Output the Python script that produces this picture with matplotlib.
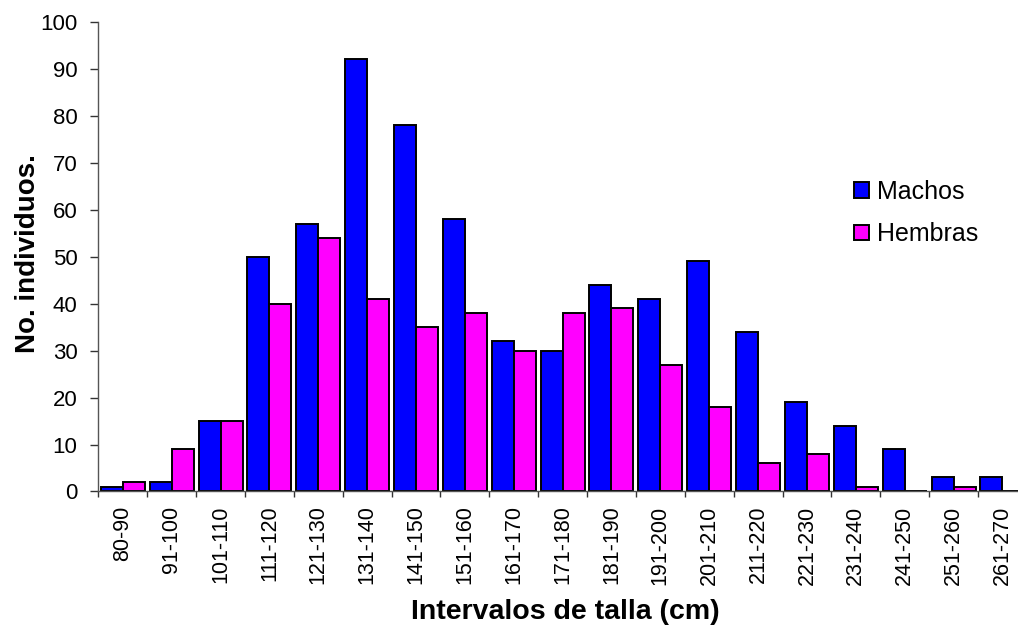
import numpy as np
import matplotlib.pyplot as plt

plt.rcParams['font.family'] = ['Liberation Sans', 'DejaVu Sans']

# Intervalos de talla y conteos por sexo
intervalos = ['80-90', '91-100', '101-110', '111-120', '121-130', '131-140',
              '141-150', '151-160', '161-170', '171-180', '181-190', '191-200',
              '201-210', '211-220', '221-230', '231-240', '241-250', '251-260',
              '261-270']
machos = [1, 2, 15, 50, 57, 92, 78, 58, 32, 30, 44, 41, 49, 34, 19, 14, 9, 3, 3]
hembras = [2, 9, 15, 40, 54, 41, 35, 38, 30, 38, 39, 27, 18, 6, 8, 1, 0, 1, 0]

fig = plt.figure(figsize=(10.18, 6.35), dpi=100)
# the plot area runs a bit past the right edge, as in the original
ax = fig.add_axes([0.0966, 0.2260, 0.9121, 0.7398])

x = np.arange(len(intervalos))
w = 0.45
ax.bar(x - w / 2, machos, w, color='#0000FF', edgecolor='black', linewidth=1.4, label='Machos')
ax.bar(x + w / 2, hembras, w, color='#FF00FF', edgecolor='black', linewidth=1.4, label='Hembras')

ax.set_xlim(-0.5, len(intervalos) - 0.5)
ax.set_ylim(0, 100)
ax.set_yticks(range(0, 101, 10))

ax.set_xticks(x)
ax.set_xticklabels(intervalos, rotation=90, va='top', ha='center')
ax.set_xticks(np.arange(len(intervalos) + 1) - 0.5, minor=True)
ax.tick_params(axis='x', which='major', length=0, pad=10, labelsize=15.5)
ax.tick_params(axis='x', which='minor', length=4, width=1, color='#333333')
ax.tick_params(axis='y', length=6, width=1, color='#333333', pad=9, labelsize=16)

for s in ['top', 'right']:
    ax.spines[s].set_visible(False)
for s in ['left', 'bottom']:
    ax.spines[s].set_color('#555555')
    ax.spines[s].set_linewidth(1)

ax.set_ylabel('No. individuos.', fontsize=20, fontweight='bold')
ax.yaxis.set_label_coords(-0.0762, 0.5066)
ax.yaxis.label.set_va('center')
ax.set_xlabel('Intervalos de talla (cm)', fontsize=20.5, fontweight='bold')
ax.xaxis.set_label_coords(0.503, -0.2565)
ax.xaxis.label.set_va('center')

ax.legend(loc='upper left', bbox_to_anchor=(0.8138, 0.6635), frameon=False, fontsize=18,
          borderpad=0, borderaxespad=0,
          handlelength=0.6, handleheight=0.6, handletextpad=0.32, labelspacing=0.74)

fig.savefig('out.png', dpi=100)
